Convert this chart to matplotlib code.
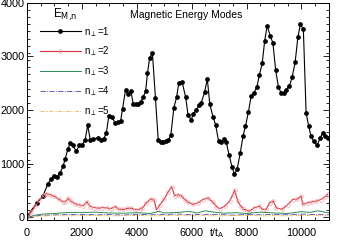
import matplotlib
matplotlib.use("Agg")
import matplotlib.pyplot as plt
from matplotlib.ticker import MultipleLocator

plt.rcParams['font.family'] = ['Liberation Sans', 'DejaVu Sans']

# n_perp = 1
t1 = [0, 360, 580, 750, 870, 970, 1090, 1210, 1310, 1390, 1480, 1580, 1670,
      1790, 1910, 2020, 2120, 2210, 2300, 2420, 2570, 2690, 2790, 2890, 2980,
      3100, 3200, 3320, 3410, 3480, 3590, 3690, 3780, 3870, 3960, 4050, 4150,
      4230, 4320, 4390, 4470, 4570, 4680, 4780, 4870, 4960, 5060, 5150, 5240,
      5350, 5450, 5530, 5650, 5780, 5870, 5990, 6050, 6170, 6270, 6350, 6470,
      6570, 6660, 6780, 6870, 6980, 7080, 7180, 7260, 7360, 7470, 7560, 7660,
      7770, 7870, 7960, 8070, 8170, 8270, 8380, 8470, 8570, 8660, 8750, 8870,
      8960, 9060, 9160, 9260, 9360, 9440, 9560, 9660, 9770, 9870, 9960, 10070,
      10170, 10260, 10350, 10450, 10570, 10680, 10780, 10870, 10950]
e1 = [20, 270, 395, 615, 705, 770, 755, 830, 955, 1080, 1265, 1390, 1340,
      1230, 1340, 1355, 1450, 1720, 1450, 1460, 1480, 1450, 1460, 1570, 1890,
      1880, 1760, 1770, 1800, 2020, 2380, 2300, 2360, 2120, 2110, 2120, 2160,
      2240, 2350, 2690, 2980, 3060, 2220, 1450, 1400, 1400, 1430, 1450, 1530,
      2040, 2240, 2500, 2530, 2240, 1900, 1820, 1930, 2000, 2100, 2140, 2330,
      2580, 2110, 1870, 1730, 1420, 1400, 1460, 1400, 1170, 940, 800, 905,
      1200, 1510, 1700, 1970, 2270, 2320, 2440, 2660, 2870, 3290, 3570, 3380,
      3250, 2750, 2430, 2320, 2320, 2380, 2450, 2610, 2890, 3360, 3600, 3510,
      1950, 1710, 1510, 1420, 1340, 1480, 1580, 1510, 1480]

# n_perp = 2
t2 = [0, 150, 300, 450, 600, 700, 850, 1000, 1150, 1300, 1400, 1500, 1600,
      1750, 1900, 2050, 2180, 2300, 2450, 2600, 2750, 2900, 3050, 3200, 3350,
      3500, 3650, 3800, 3950, 4100, 4200, 4350, 4500, 4620, 4720, 4840, 5000,
      5150, 5270, 5380, 5500, 5620, 5750, 5870, 6050, 6230, 6410, 6590, 6775,
      6900, 7020, 7200, 7380, 7500, 7564, 7680, 7800, 7900, 8100, 8270, 8470,
      8600, 8720, 8840, 8980, 9080, 9300, 9500, 9680, 9850, 9990, 10050, 10230,
      10400, 10535, 10700, 10850, 10960]
e2 = [0, 90, 210, 320, 410, 440, 420, 390, 340, 290, 290, 350, 300,
      250, 230, 215, 290, 200, 180, 170, 180, 175, 160, 200, 150,
      145, 165, 170, 140, 150, 170, 270, 340, 330, 145, 230, 340,
      480, 570, 400, 420, 400, 330, 280, 240, 270, 330, 360, 280,
      200, 160, 205, 300, 420, 510, 300, 200, 150, 112, 175, 205,
      143, 150, 270, 300, 175, 150, 237, 330, 340, 390, 240, 270,
      290, 300, 330, 380, 430]

# n_perp = 3
t3 = [0, 300, 600, 1000, 1500, 2000, 2500, 3000, 3500, 4000, 4500, 4800,
      5000, 5500, 5900, 6200, 6500, 6800, 7200, 7600, 8000, 8500, 9000,
      9500, 10000, 10300, 10600, 11000]
e3 = [0, 40, 60, 70, 90, 90, 95, 80, 75, 85, 70, 110,
      80, 90, 110, 80, 120, 95, 75, 85, 70, 95, 80,
      70, 105, 90, 120, 80]

# n_perp = 4
t4 = [0, 400, 1000, 1500, 2000, 2500, 3000, 3500, 4000, 4500, 5000, 5500,
      6000, 6500, 7000, 7500, 8000, 8500, 9000, 9500, 10000, 10500, 11000]
e4 = [0, 30, 45, 50, 55, 45, 50, 40, 55, 45, 50, 60,
      45, 55, 50, 40, 50, 45, 55, 45, 60, 50, 45]

# n_perp = 5
t5 = [0, 400, 1000, 1500, 2000, 2500, 3000, 3500, 4000, 4500, 5000, 5500,
      6000, 6500, 7000, 7500, 8000, 8500, 9000, 9500, 10000, 10500, 11000]
e5 = [0, 20, 30, 25, 35, 30, 25, 30, 35, 25, 30, 35,
      25, 30, 25, 30, 35, 25, 30, 25, 35, 30, 25]

fig = plt.figure(figsize=(3.38, 2.43), dpi=100)
ax = fig.add_axes([0.080, 0.095, 0.893, 0.893])

ax.plot(t1, e1, color='black', lw=0.8, marker='o', ms=2.4, label=r'n$_\perp$=1')
ax.plot(t2, e2, color='#d0303a', lw=0.8, marker='o', ms=2.6, mfc='none',
        mec='#f0a0a8', mew=0.5, label=r'n$_\perp$=2')
ax.plot(t3, e3, color='#2e8b57', lw=0.7, label=r'n$_\perp$=3')
ax.plot(t4, e4, color='#4848a8', lw=0.6, ls='-.', label=r'n$_\perp$=4')
ax.plot(t5, e5, color='#f0b040', lw=0.6, ls=(0, (4, 1.5, 1, 1.5, 1, 1.5)),
        label=r'n$_\perp$=5')

ax.set_xlim(0, 11000)
ax.set_ylim(-50, 4000)
ax.xaxis.set_major_locator(MultipleLocator(2000))
ax.xaxis.set_minor_locator(MultipleLocator(500))
ax.yaxis.set_major_locator(MultipleLocator(1000))
ax.yaxis.set_minor_locator(MultipleLocator(1000 / 7.5))
ax.tick_params(which='both', direction='in', top=True, right=True,
               labelsize=7.8, width=0.6)
ax.tick_params(which='major', length=4)
ax.tick_params(which='minor', length=2)
ax.tick_params(axis='x', pad=6)
ax.tick_params(axis='y', pad=2)
for s in ax.spines.values():
    s.set_linewidth(0.7)

ax.text(0.527, 0.945, 'Magnetic Energy Modes', transform=ax.transAxes,
        ha='center', va='center', fontsize=7.5)
ax.text(6920, -0.062, r't/t$_\mathrm{A}$', transform=ax.get_xaxis_transform(),
        ha='center', va='center', fontsize=7.5)
ax.text(0.086, 0.945, r'E$_\mathrm{M{,}n}$', transform=ax.transAxes,
        ha='left', va='center', fontsize=8.5)

ax.legend(loc='upper left', bbox_to_anchor=(0.043, 0.899), frameon=False,
          fontsize=7, handlelength=4.2, labelspacing=0.62,
          handletextpad=0.3, borderaxespad=0, borderpad=0)

fig.savefig('out.png', dpi=100)
